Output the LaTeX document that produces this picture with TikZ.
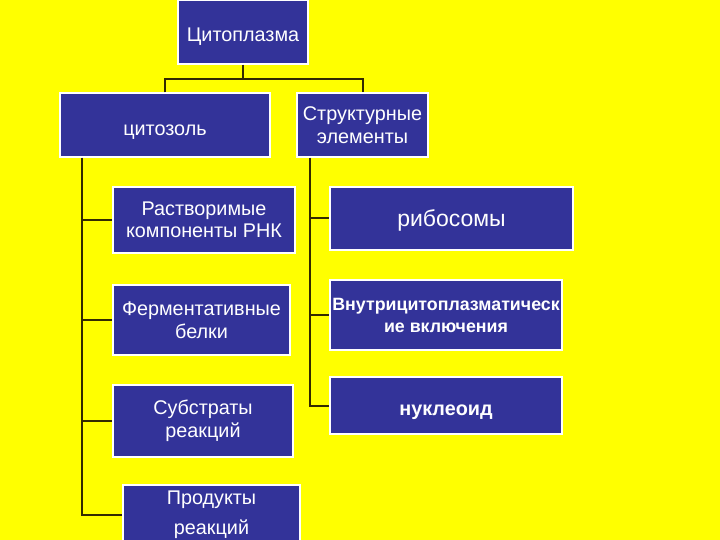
\documentclass[tikz,border=0pt]{standalone}
\usepackage{fontspec}
\setmainfont{Liberation Sans}
\definecolor{bg}{HTML}{FFFF00}
\definecolor{boxblue}{HTML}{333399}
\definecolor{linec}{HTML}{332A00}
\begin{document}
\begin{tikzpicture}[x=1pt,y=-1pt,
  box/.style={draw=white,line width=1.2pt,fill=boxblue,text=white,align=center,inner sep=0pt,font=\fontsize{19.8}{22.5}\selectfont},
  lowered/.style={text height=#1},
  conn/.style={draw=linec,line width=2pt}]
\fill[bg] (0,0) rectangle (720,540);
\useasboundingbox (0,0) rectangle (720,540);
\node[box,lowered=22pt,minimum width=130pt,minimum height=64pt] (top) at (243,32) {Цитоплазма};
\node[box,lowered=24pt,minimum width=210pt,minimum height=64pt] (cyt) at (165,125) {цитозоль};
\node[box,minimum width=131pt,minimum height=64pt] (str) at (362.5,125) {Структурные\\элементы};
\node[box,minimum width=182pt,minimum height=66pt] (sol) at (204,220) {Растворимые\\компоненты РНК};
\node[box,minimum width=177pt,minimum height=70pt] (fer) at (201.5,320) {Ферментативные\\белки};
\node[box,minimum width=180pt,minimum height=72pt] (sub) at (203,421) {Субстраты\\реакций};
\node[box,minimum width=177pt,minimum height=60pt,font=\fontsize{19.8}{30}\selectfont] (prod) at (211.5,515) {Продукты\\реакций};
\node[box,lowered=20pt,minimum width=243pt,minimum height=63pt,font=\fontsize{23}{26}\selectfont] (rib) at (451.5,218.5) {рибосомы};
\node[box,minimum width=232pt,minimum height=70pt,font=\bfseries\fontsize{17.8}{22}\selectfont] (vkl) at (446,315) {Внутрицитоплазматическ\\ие включения};
\node[box,lowered=24pt,minimum width=232pt,minimum height=57pt,font=\bfseries\fontsize{19.8}{22}\selectfont] (nuc) at (446,405.5) {нуклеоид};
\coordinate (j) at (243,79);
\coordinate (L) at (82,0);
\coordinate (R) at (310,0);
\draw[conn] (top.south) -- (j);
\draw[conn] (cyt.north) -- (cyt.north|-j) -- (str.north|-j) -- (str.north);
\draw[conn] (L|-cyt.south) -- (L|-prod.west) -- (prod.west);
\draw[conn] (L|-sol.west) -- (sol.west);
\draw[conn] (L|-fer.west) -- (fer.west);
\draw[conn] (L|-sub.west) -- (sub.west);
\draw[conn] (R|-str.south) -- (R|-nuc.west) -- (nuc.west);
\draw[conn] (R|-rib.west) -- (rib.west);
\draw[conn] (R|-vkl.west) -- (vkl.west);
\end{tikzpicture}
\end{document}
